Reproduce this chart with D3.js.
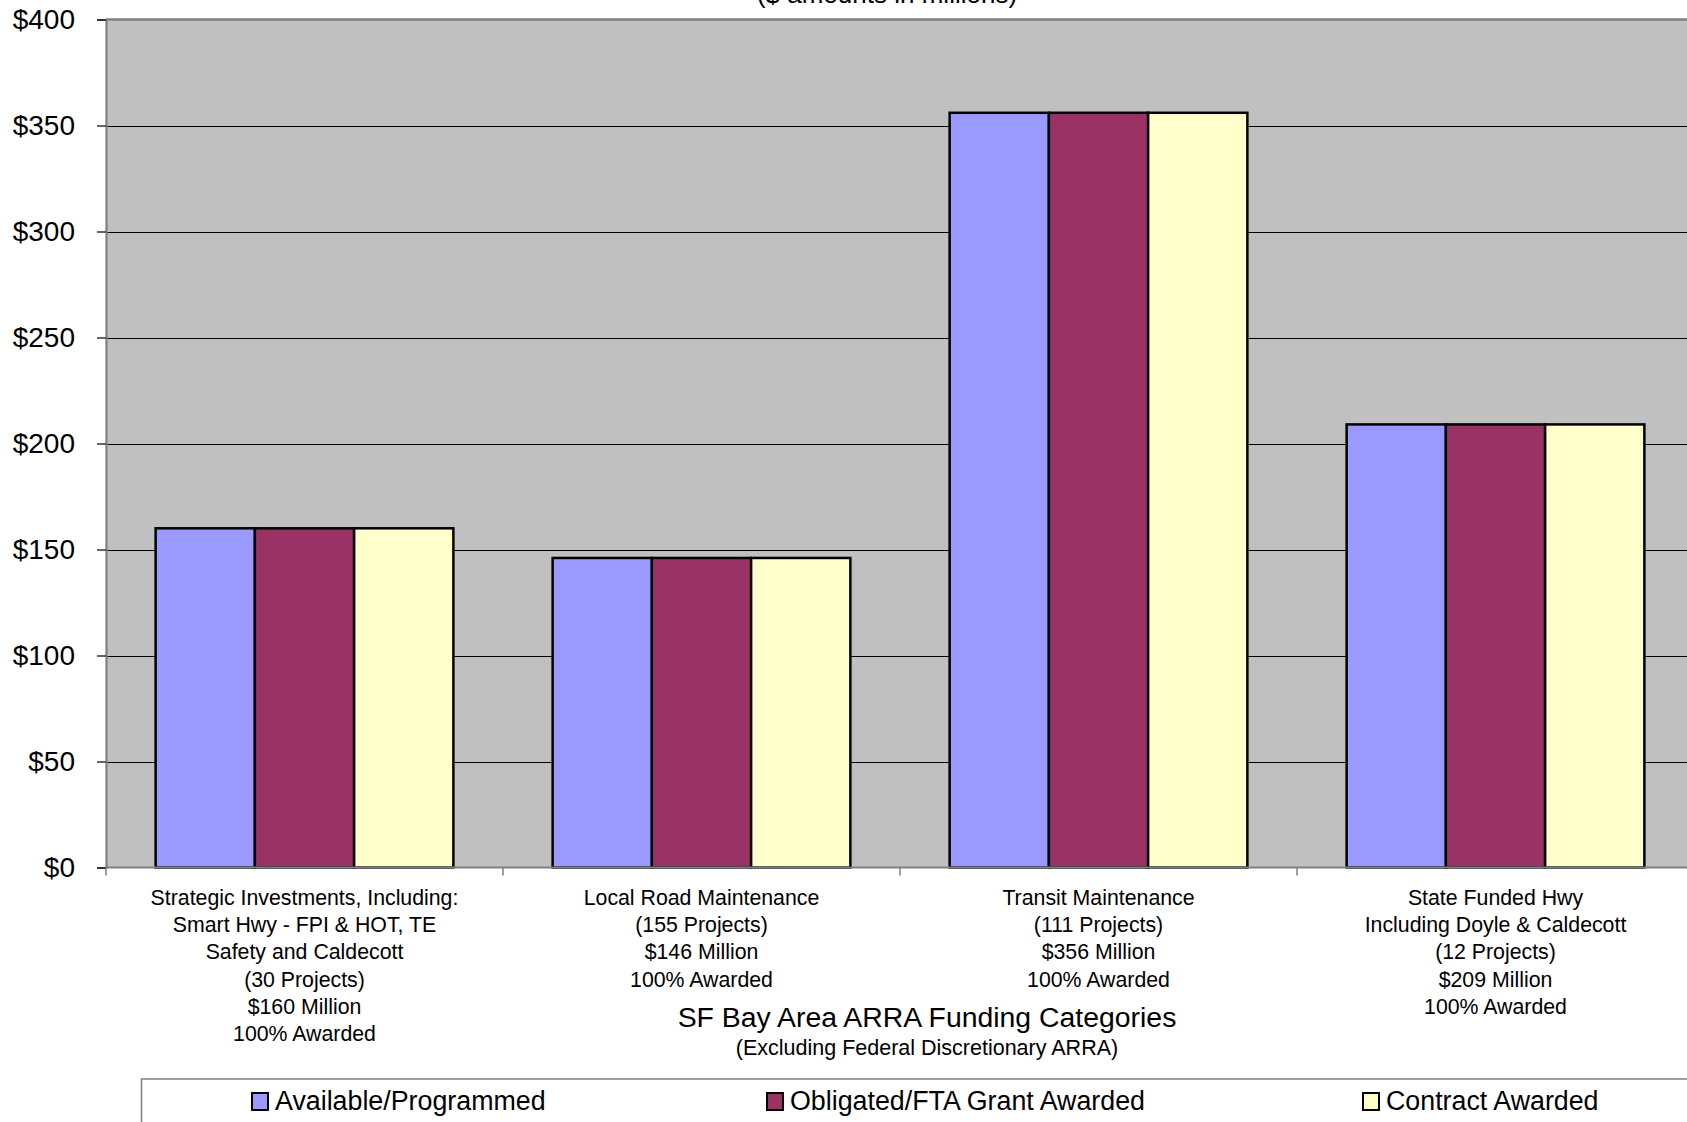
<!DOCTYPE html>
<html>
<head>
<meta charset="utf-8">
<script src="https://cdn.jsdelivr.net/npm/d3@7"></script>
<style>
  html, body { margin: 0; padding: 0; background: #fff; }
  svg { display: block; font-family: "Liberation Sans", Arial, sans-serif; }
</style>
</head>
<body>
<svg id="chart" width="1687" height="1122"></svg>
<script>
// ---- data ----
const categories = ["Strategic", "LocalRoad", "Transit", "StateHwy"];
const categoryLabels = [
  ["Strategic Investments, Including:", "Smart Hwy - FPI & HOT, TE", "Safety and Caldecott", "(30 Projects)", "$160 Million", "100% Awarded"],
  ["Local Road Maintenance", "(155 Projects)", "$146 Million", "100% Awarded"],
  ["Transit Maintenance", "(111 Projects)", "$356 Million", "100% Awarded"],
  ["State Funded Hwy", "Including Doyle & Caldecott", "(12 Projects)", "$209 Million", "100% Awarded"]
];
const seriesNames = ["Available/Programmed", "Obligated/FTA Grant Awarded", "Contract Awarded"];
const availableProgrammed = [160, 146, 356, 209];
const obligatedAwarded = [160, 146, 356, 209];
const contractAwarded = [160, 146, 356, 209];
const seriesColors = ["#9999FF", "#993366", "#FFFFCC"];
const yTicks = [0, 50, 100, 150, 200, 250, 300, 350, 400];
const subtitleText = "($ amounts in millions)";
const xTitle = "SF Bay Area ARRA Funding Categories";
const xSubtitle = "(Excluding Federal Discretionary ARRA)";

const seriesValues = [availableProgrammed, obligatedAwarded, contractAwarded];

// ---- layout ----
const plot = { left: 106, top: 19.5, right: 1694, bottom: 867.5 };
const svg = d3.select("#chart");

const x0 = d3.scaleBand().domain(categories).range([plot.left, plot.right]).paddingInner(0).paddingOuter(0);
const x1 = d3.scaleBand().domain(seriesNames).range([0, x0.bandwidth()]).paddingInner(0).paddingOuter(0.5);
const y = d3.scaleLinear().domain([0, 400]).range([plot.bottom, plot.top]);

// plot background
svg.append("rect")
  .attr("x", plot.left).attr("y", plot.top)
  .attr("width", plot.right - plot.left).attr("height", plot.bottom - plot.top)
  .attr("fill", "#C0C0C0");

// gridlines
svg.append("g").selectAll("line")
  .data(yTicks.filter(d => d > 0 && d < 400))
  .join("line")
  .attr("x1", plot.left).attr("x2", plot.right)
  .attr("y1", d => Math.round(y(d)) + 0.5).attr("y2", d => Math.round(y(d)) + 0.5)
  .attr("stroke", "#000").attr("stroke-width", 1.2);

// top border of plot
svg.append("line")
  .attr("x1", plot.left).attr("x2", plot.right)
  .attr("y1", y(400)).attr("y2", y(400))
  .attr("stroke", "#808080").attr("stroke-width", 2.5);

// bars
const groups = svg.append("g").selectAll("g")
  .data(categories)
  .join("g")
  .attr("transform", d => `translate(${x0(d)},0)`);

groups.selectAll("rect")
  .data((c, i) => seriesNames.map((s, j) => ({ s, j, v: seriesValues[j][i] })))
  .join("rect")
  .attr("x", d => x1(d.s))
  .attr("width", x1.bandwidth())
  .attr("y", d => y(d.v))
  .attr("height", d => y(0) - y(d.v))
  .attr("fill", d => seriesColors[d.j])
  .attr("stroke", "#000")
  .attr("stroke-width", 2.5);

// y axis
const yAxis = d3.axisLeft(y).tickValues(yTicks).tickSize(9).tickPadding(0).tickFormat(d => "$" + d);
const yg = svg.append("g").attr("transform", `translate(${plot.left},0)`).call(yAxis);
yg.select(".domain").attr("stroke", "#808080").attr("stroke-width", 2.2);
yg.selectAll(".tick line").attr("stroke", "#000").attr("stroke-width", 1.2);
yg.selectAll(".tick text")
  .attr("x", -31)
  .attr("font-size", 28)
  .attr("font-family", "'Liberation Sans', Arial, sans-serif")
  .attr("fill", "#000");

// x axis line + ticks at category boundaries
const xg = svg.append("g");
xg.append("line")
  .attr("x1", plot.left).attr("x2", plot.right)
  .attr("y1", plot.bottom).attr("y2", plot.bottom)
  .attr("stroke", "#808080").attr("stroke-width", 2.2);
const boundaries = categories.map(c => x0(c)).concat([x0(categories[categories.length - 1]) + x0.bandwidth()]);
xg.selectAll("line.tk")
  .data(boundaries)
  .join("line").attr("class", "tk")
  .attr("x1", d => d).attr("x2", d => d)
  .attr("y1", plot.bottom).attr("y2", plot.bottom + 8)
  .attr("stroke", "#808080").attr("stroke-width", 1.5);

// category labels
const lineH = 27.2;
svg.append("g").selectAll("text")
  .data(categories)
  .join("text")
  .attr("text-anchor", "middle")
  .attr("font-size", 21.3)
  .attr("fill", "#000")
  .each(function (c, i) {
    const t = d3.select(this);
    categoryLabels[i].forEach((ln, k) => {
      t.append("tspan")
        .attr("x", x0(c) + x0.bandwidth() / 2)
        .attr("y", 905 + k * lineH)
        .text(ln);
    });
  });

// axis titles
svg.append("text")
  .attr("x", 927).attr("y", 1027)
  .attr("text-anchor", "middle")
  .attr("font-size", 28.4)
  .attr("fill", "#000")
  .text(xTitle);
svg.append("text")
  .attr("x", 927).attr("y", 1055)
  .attr("text-anchor", "middle")
  .attr("font-size", 21.5)
  .attr("fill", "#000")
  .text(xSubtitle);

// chart subtitle (cut at top)
svg.append("text")
  .attr("x", 887).attr("y", 3)
  .attr("text-anchor", "middle")
  .attr("font-size", 26)
  .attr("fill", "#000")
  .text(subtitleText);

// legend
const legendBox = { x: 141.5, y: 1079 };
svg.append("rect")
  .attr("x", legendBox.x).attr("y", legendBox.y)
  .attr("width", 1700).attr("height", 100)
  .attr("fill", "#fff").attr("stroke", "#808080").attr("stroke-width", 1.5);
const legendX = [252, 767, 1363];
const lg = svg.append("g").selectAll("g")
  .data(seriesNames)
  .join("g")
  .attr("transform", (d, i) => `translate(${legendX[i]},${legendBox.y})`);
lg.append("rect")
  .attr("x", 0).attr("y", 14)
  .attr("width", 16).attr("height", 17)
  .attr("fill", (d, i) => seriesColors[i])
  .attr("stroke", "#000").attr("stroke-width", 2);
lg.append("text")
  .attr("x", 23).attr("y", 31)
  .attr("font-size", 26.8)
  .attr("fill", "#000")
  .text(d => d);
</script>
</body>
</html>
